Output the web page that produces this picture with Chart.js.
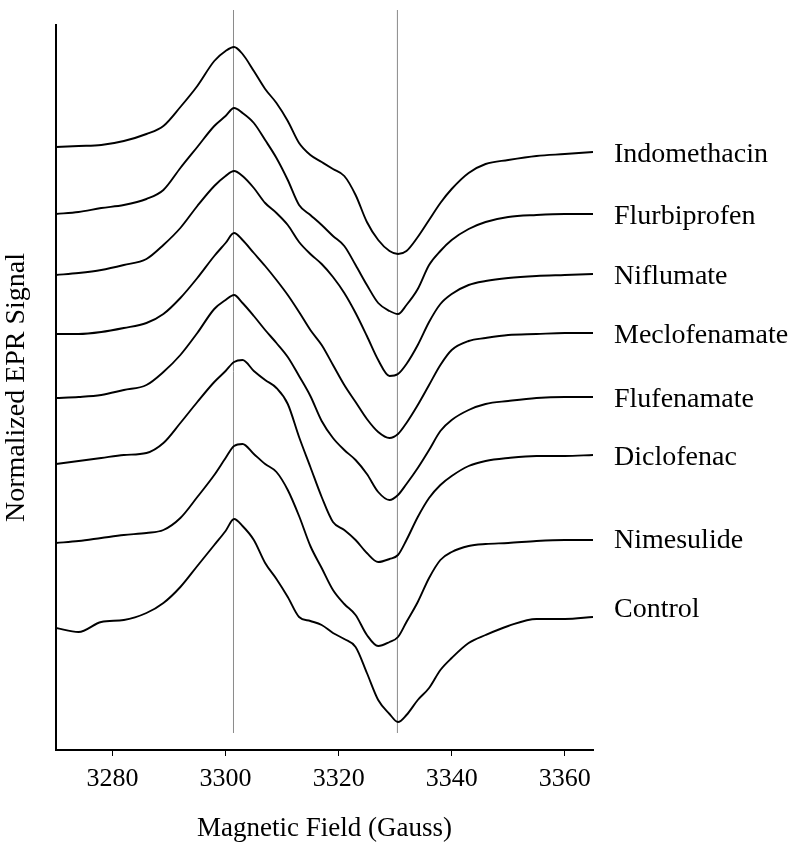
<!DOCTYPE html>
<html>
<head>
<meta charset="utf-8">
<script src="https://cdn.jsdelivr.net/npm/chart.js@4.4.1/dist/chart.umd.min.js"></script>
<style>
  html, body { margin: 0; padding: 0; background: #ffffff; }
  canvas { display: block; }
</style>
</head>
<body>
<canvas id="c" width="800" height="849"></canvas>
<script>
// Magnetic field sampling points (Gauss)
const fields = [3270, 3274, 3278, 3282, 3286, 3289, 3292, 3295, 3298, 3300, 3301.5, 3303, 3305, 3307, 3309, 3311, 3313, 3315, 3317, 3319, 3321, 3323, 3325, 3327, 3329, 3330.5, 3332, 3334, 3336, 3338, 3340, 3343, 3346, 3350, 3355, 3360, 3365];

// Normalized EPR signal (arbitrary units, traces stacked with offsets)
const indomethacin  = [603,604,605,609,616,624,643,664,689,699,703,696,679,661,647,629,607,595,588,581,574,555,528,510,499,496,499,513,530,547,561,577,586,590,594,596,598];
const flurbiprofen  = [536,538,542,545,551,560,582,603,624,634,642,637,627,610,592,570,545,535,525,514,504,485,465,447,439,436,445,461,485,499,510,521,528,533,535,536,536];
const niflumate     = [475,477,480,485,491,505,522,544,564,574,579,574,562,547,537,525,508,496,486,473,457,437,414,390,374,376,386,405,428,446,456,465,469,472,474,475,476];
const meclofenamate = [416,416,418,422,427,436,452,472,494,507,517,510,497,484,470,455,438,420,405,385,365,348,331,318,312,316,327,345,365,385,400,409,412,415,416,417,417];
const flufenamate   = [352,353,355,360,365,378,395,417,441,450,455,447,434,420,407,393,374,354,329,312,300,290,276,258,250,255,266,282,300,319,330,340,346,349,352,353,353];
const diclofenac    = [286,289,292,295,297,307,327,348,368,379,388,390,379,370,362,346,313,283,253,228,220,210,197,188,191,195,210,233,252,265,274,284,289,292,294,294,295];
const nimesulide    = [207,209,212,215,217,220,232,253,275,292,304,306,296,286,278,260,234,204,182,160,146,135,115,104,108,113,128,148,172,190,198,204,206,207,209,210,210];
const control       = [122,118,128,130,137,147,163,184,205,219,231,224,210,187,171,153,133,129,125,117,111,103,77,50,36,28,35,50,62,80,92,107,115,124,131,131,133];

const seriesNames  = ['Indomethacin','Flurbiprofen','Niflumate','Meclofenamate','Flufenamate','Diclofenac','Nimesulide','Control'];
const seriesValues = [indomethacin, flurbiprofen, niflumate, meclofenamate, flufenamate, diclofenac, nimesulide, control];

// Reference field lines (Gauss) and their vertical extent (signal units)
const markerFields = [3301.4, 3330.4];
const markerSpan = [17, 740];

const xTicks = [3280, 3300, 3320, 3340, 3360];

const serif = '"Liberation Serif", "Times New Roman", serif';
const labelNudge = [3, 3, 3, 3, 3, 3, 1, -7];

const datasets = [];
seriesValues.forEach((vals, i) => {
  datasets.push({
    label: seriesNames[i],
    data: fields.map((f, k) => ({ x: f, y: vals[k] })),
    borderColor: '#000000',
    borderWidth: 1.9,
    pointRadius: 0,
    cubicInterpolationMode: 'monotone',
    fill: false
  });
});
markerFields.forEach(f => {
  datasets.push({
    label: 'marker',
    data: [{ x: f, y: markerSpan[0] }, { x: f, y: markerSpan[1] }],
    borderColor: '#8a8a8a',
    borderWidth: 1,
    pointRadius: 0,
    tension: 0,
    clip: false,
    fill: false
  });
});

const labelPlugin = {
  id: 'traceLabels',
  afterDatasetsDraw(chart) {
    const { ctx, chartArea, scales } = chart;
    ctx.save();
    ctx.font = '28px ' + serif;
    ctx.fillStyle = '#000';
    ctx.textBaseline = 'middle';
    ctx.textAlign = 'left';
    seriesValues.forEach((vals, i) => {
      const y = scales.y.getPixelForValue(vals[vals.length - 1]) + labelNudge[i];
      ctx.fillText(seriesNames[i], chartArea.right + 21, y);
    });
    ctx.restore();
  }
};

new Chart(document.getElementById('c'), {
  type: 'line',
  data: { datasets },
  plugins: [labelPlugin],
  options: {
    responsive: false,
    animation: false,
    layout: { padding: { left: 0, right: 207, top: 25, bottom: 0 } },
    plugins: { legend: { display: false }, tooltip: { enabled: false } },
    scales: {
      x: {
        type: 'linear',
        min: 3270,
        max: 3365,
        afterBuildTicks: s => { s.ticks = xTicks.map(v => ({ value: v })); },
        afterFit: s => { s.height = 99; },
        ticks: { color: '#000', font: { family: serif, size: 26 }, padding: 8, maxRotation: 0, autoSkip: false, callback: v => String(v) },
        grid: { drawOnChartArea: false, drawTicks: true, tickLength: 6, color: '#000', lineWidth: 1 },
        border: { display: true, color: '#000', width: 2 },
        title: { display: true, text: 'Magnetic Field (Gauss)', color: '#000', font: { family: serif, size: 27 }, padding: { top: 0, bottom: 4 } }
      },
      y: {
        min: 0,
        max: 725,
        afterFit: s => { s.width = 56; },
        ticks: { display: false },
        grid: { display: true, drawOnChartArea: false, drawTicks: false },
        border: { display: true, color: '#000', width: 2 },
        title: { display: true, text: 'Normalized EPR Signal', color: '#000', font: { family: serif, size: 28 }, padding: { top: 0, bottom: 0 } }
      }
    }
  }
});
</script>
</body>
</html>
